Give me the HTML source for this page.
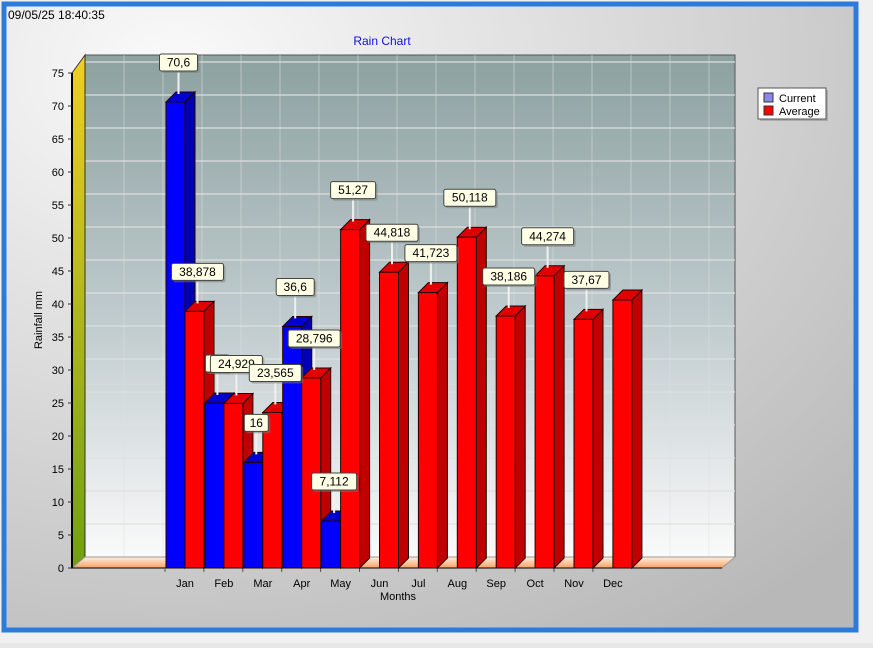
<!DOCTYPE html>
<html><head><meta charset="utf-8"><style>
body{margin:0;width:873px;height:643px;overflow:hidden;background:#e8e8e8;font-family:"Liberation Sans",sans-serif}
</style></head><body>
<svg id="c" width="873" height="643" xmlns="http://www.w3.org/2000/svg" font-family="Liberation Sans, sans-serif">
<defs>
<radialGradient id="bg" cx="0.2" cy="0.1" r="1.1"><stop offset="0" stop-color="#fafafa"/><stop offset="1" stop-color="#b8b8b8"/></radialGradient>
<linearGradient id="wall" x1="0" y1="0" x2="0" y2="1"><stop offset="0" stop-color="#8da1a1"/><stop offset="0.55" stop-color="#c2cdd0"/><stop offset="1" stop-color="#fafafa"/></linearGradient>
<linearGradient id="lw" x1="0" y1="0" x2="0" y2="1"><stop offset="0" stop-color="#f0d020"/><stop offset="1" stop-color="#70a010"/></linearGradient>
<linearGradient id="fl" x1="0" y1="0" x2="0" y2="1"><stop offset="0" stop-color="#fff0e0"/><stop offset="1" stop-color="#f8a060"/></linearGradient>
</defs>
<rect x="0" y="0" width="873" height="643" fill="#f0f0f0"/>
<rect x="4" y="4" width="852" height="626" fill="url(#bg)" stroke="#2b7bdc" stroke-width="5"/>
<text x="8" y="19" font-size="12" fill="#000">09/05/25 18:40:35</text>
<text x="382" y="45" font-size="12" fill="#1010e0" text-anchor="middle">Rain Chart</text>
<g id="plot"></g>
<text x="42" y="320" font-size="11" text-anchor="middle" transform="rotate(-90 42 320)">Rainfall mm</text>
<text x="398" y="600" font-size="11" text-anchor="middle">Months</text>
<g>
<rect x="760" y="90" width="68" height="31" fill="#888" opacity="0.5"/>
<rect x="758" y="88" width="68" height="31" fill="#fff" stroke="#555"/>
<rect x="764" y="93" width="9" height="9" fill="#8888ee" stroke="#333"/>
<text x="779" y="102" font-size="11">Current</text>
<rect x="764" y="106" width="9" height="9" fill="#f00" stroke="#333"/>
<text x="779" y="115" font-size="11">Average</text>
</g>
</svg>
<script>
const months=["Jan","Feb","Mar","Apr","May","Jun","Jul","Aug","Sep","Oct","Nov","Dec"];
const current=[70.6,25,16,36.6,7.112,null,null,null,null,null,null,null];
const average=[38.878,24.929,23.565,28.796,51.27,44.818,41.723,50.118,38.186,44.274,37.67,40.6];
const avgLabels=["38,878","24,929","23,565","28,796","51,27","44,818","41,723","50,118","38,186","44,274","37,67",""];
const curLabels=["70,6","25","16","36,6","7,112","","","","","","",""];
const yTicks=[0,5,10,15,20,25,30,35,40,45,50,55,60,65,70,75];
const NS="http://www.w3.org/2000/svg";
const g=document.getElementById('plot');
const X0=72,Y0=568,DX=13,DY=11,PW=650,yMax=75,PH=495;
function yS(v){return Y0-v/yMax*PH;}
function xC(i){return 185+i*38.9;}
function el(t,a,p){const e=document.createElementNS(NS,t);for(const k in a)e.setAttribute(k,a[k]);(p||g).appendChild(e);return e;}
// back wall
const wall=el('rect',{x:X0+DX,y:yS(75)-DY-7,width:PW,height:PH+7,fill:'url(#wall)',stroke:'#555'});


for(const t of yTicks){if(t===0)continue;const y=yS(t)-DY;
const l=el('line',{x1:X0+DX,y1:y,x2:X0+DX+PW,y2:y,stroke:'#e0e0e0','stroke-width':1.5,opacity:0.8});

}
for(let i=0;i<=16;i++){const x=X0+DX+i*39;const l=el('line',{x1:x,y1:yS(75)-DY-7,x2:x,y2:Y0-DY,stroke:'#e0e0e0',opacity:0.5});

}
// left wall
const lw=el('polygon',{points:`${X0},${Y0} ${X0},${yS(75)} ${X0+DX},${yS(75)-DY-7} ${X0+DX},${Y0-DY}`,fill:'url(#lw)',stroke:'#333'});


// floor
const fl=el('polygon',{points:`${X0},${Y0} ${X0+DX},${Y0-DY} ${X0+DX+PW},${Y0-DY} ${X0+PW},${Y0}`,fill:'url(#fl)',stroke:'#999'});


// axis
const ax=el('line',{x1:X0,y1:yS(75),x2:X0,y2:Y0,stroke:'#000','stroke-width':2});


const bx=el('line',{x1:X0,y1:Y0,x2:X0+PW,y2:Y0,stroke:'#000','stroke-width':1});


for(const t of yTicks){const y=yS(t);
const tl=el('line',{x1:X0-4,y1:y,x2:X0,y2:y,stroke:'#333'});


const tx=el('text',{x:X0-8,y:y+4,'font-size':11,'text-anchor':'end'});tx.textContent=t;

}
months.forEach((m,i)=>{const tx=el('text',{x:xC(i),y:587,'font-size':11,'text-anchor':'middle'});tx.textContent=m;


const tl=el('line',{x1:xC(i)-20,y1:Y0,x2:xC(i)-20,y2:Y0+4,stroke:'#555'});

});
const BW=19,BD=10;
function bar(x,v,front,top,side,name){const y=yS(v);const b=el('g',{});


el('polygon',{points:`${x+BW},${Y0} ${x+BW},${y} ${x+BW+BD},${y-BD} ${x+BW+BD},${Y0-BD}`,fill:side,stroke:'#200'},b);
el('polygon',{points:`${x},${y} ${x+BD},${y-BD} ${x+BW+BD},${y-BD} ${x+BW},${y}`,fill:top,stroke:'#200'},b);
el('rect',{x:x,y:y,width:BW,height:Y0-y,fill:front,stroke:'#200'},b);}
const labels=[];
months.forEach((m,i)=>{
if(current[i]!=null){bar(xC(i)-19,current[i],'#0000ff','#0000d0','#0000b0','bar-current-'+m.toLowerCase());labels.push([xC(i)-19,current[i],curLabels[i],'label-current-'+m.toLowerCase()]);}
bar(xC(i),average[i],'#ff0000','#e00000','#c00000','bar-average-'+m.toLowerCase());
if(avgLabels[i])labels.push([xC(i),average[i],avgLabels[i],'label-average-'+m.toLowerCase()]);
});
for(const [x,v,t,n] of labels){const cx=x+BW/2+3,y=yS(v)-BD+2;
const lg=el('g',{});


el('line',{x1:cx,y1:y,x2:cx,y2:y-22,stroke:'#f0f0f0','stroke-width':2},lg);
const w=t.length*7+10;
el('rect',{x:cx-w/2+2,y:y-40+2,width:w,height:17,rx:2,fill:'#777',opacity:0.5},lg);
el('rect',{x:cx-w/2,y:y-40,width:w,height:17,rx:2,fill:'#ffffe6',stroke:'#444'},lg);
const tx=el('text',{x:cx,y:y-27.5,'font-size':12,'text-anchor':'middle'},lg);tx.textContent=t;}
</script>
</body></html>
